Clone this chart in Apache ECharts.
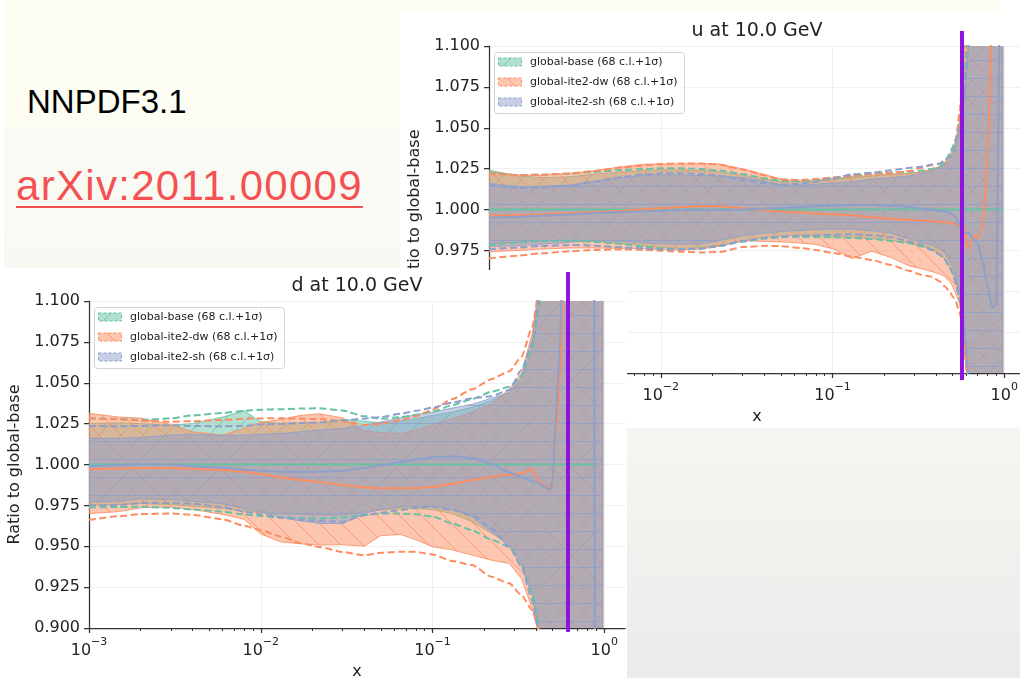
<!DOCTYPE html>
<html>
<head>
<meta charset="utf-8">
<title>NNPDF3.1 – ratio to global-base</title>
<script src="https://cdn.jsdelivr.net/npm/echarts@6.0.0/dist/echarts.min.js"></script>
<style>
  html, body { margin: 0; padding: 0; background: #ffffff; }
  #slide { position: relative; width: 1020px; height: 678px; overflow: hidden; background: #ffffff; }
  .blk { position: absolute; }
  #creamTop { left: 4px; top: 0; width: 996px; height: 12px; background: #fdfdf4; }
  #creamBox { left: 4px; top: 0; width: 396px; height: 268px;
              background: linear-gradient(to bottom, #fdfdf4 0px, #fdfdf4 127px, #fafaf5 127px, #f9f9f4 268px); }
  #uChart { left: 400px; top: 15px; width: 620px; height: 413px; background: #ffffff; }
  #dChart { left: 0; top: 270px; width: 627px; height: 408px; background: #ffffff; }
  #grayBox { left: 627px; top: 428px; width: 393px; height: 250px;
             background: linear-gradient(to bottom, #f5f5f1, #ebebea); }
  #heading { position: absolute; left: 27px; top: 85px; font: 33px/33px "Liberation Sans", Arial, sans-serif; color: #000; }
  #ref { position: absolute; left: 16px; top: 165px; font: 42px/42px "Liberation Sans", Arial, sans-serif; letter-spacing: 1.3px;
         color: #f45252; text-decoration: underline; text-decoration-thickness: 2px; text-underline-offset: 6px; white-space: nowrap; }
  .cut { position: absolute; width: 4px; background: #8f14df; }
</style>
</head>
<body>
<div id="slide">
  <div class="blk" id="uChart"></div>
  <div class="blk" id="creamTop"></div>
  <div class="blk" id="creamBox"></div>
  <div id="heading">NNPDF3.1</div>
  <div id="ref">arXiv:2011.00009</div>
  <div class="blk" id="dChart"></div>
  <div class="blk" id="grayBox"></div>
  <div class="cut" style="left:960px; top:31px; height:349px;"></div>
  <div class="cut" style="left:566px; top:272px; height:360px;"></div>
</div>
<script>
// ---------- sampling grid in x ----------
const X = [0.001, 0.0015, 0.002, 0.003, 0.004, 0.006, 0.008, 0.01, 0.013, 0.017,
           0.022, 0.03, 0.04, 0.05, 0.065, 0.08, 0.1, 0.13, 0.17, 0.22,
           0.28, 0.33, 0.38, 0.42, 0.45, 0.48, 0.5, 0.52, 0.55, 0.58,
           0.62, 0.66, 0.7, 0.75, 0.8, 0.85, 0.9, 0.95, 0.98];

// ---------- axes ----------
const X_MIN = 0.001, X_MAX = 1.32;
const X_MAJOR = [0.001, 0.01, 0.1, 1];
const X_MAJOR_EXP = ['\u22123', '\u22122', '\u22121', '0'];
const X_MINOR = [0.002, 0.003, 0.004, 0.005, 0.006, 0.007, 0.008, 0.009,
                 0.02, 0.03, 0.04, 0.05, 0.06, 0.07, 0.08, 0.09,
                 0.2, 0.3, 0.4, 0.5, 0.6, 0.7, 0.8, 0.9];
const Y_MIN = 0.9, Y_MAX = 1.1, Y_STEP = 0.025;
const Y_LABELS = ['0.900', '0.925', '0.950', '0.975', '1.000', '1.025', '1.050', '1.075', '1.100'];

const SET_NAMES = ['global-base (68 c.l.+1\u03c3)', 'global-ite2-dw (68 c.l.+1\u03c3)', 'global-ite2-sh (68 c.l.+1\u03c3)'];

// ---------- d at 10.0 GeV ----------
const dBaseCentral = [1.000, 1.000, 1.000, 1.000, 1.000, 1.000, 1.000, 1.000, 1.000, 1.000,
  1.000, 1.000, 1.000, 1.000, 1.000, 1.000, 1.000, 1.000, 1.000, 1.000,
  1.000, 1.000, 1.000, 1.000, 1.000, 1.000, 1.000, 1.000, 1.000, 1.000,
  1.000, 1.000, 1.000, 1.000, 1.000, 1.000, 1.000, null, null];
const dBaseSigHi = [1.0283, 1.0278, 1.0272, 1.0283, 1.0300, 1.0315, 1.0328, 1.0335, 1.0338, 1.0342,
  1.0344, 1.0330, 1.0295, 1.0280, 1.0290, 1.0305, 1.0323, 1.0362, 1.0400, 1.0445,
  1.0475, 1.0540, 1.0720, 1.0990, 1.1300, 1.1700, 1.2000, 1.2300, 1.2700, 1.3100,
  1.3600, 1.4100, 1.4600, 1.5200, 1.6000, 1.7000, 1.8000, null, null];
const dBaseSigLo = [0.9737, 0.9740, 0.9741, 0.9735, 0.9725, 0.9712, 0.9695, 0.9685, 0.9676, 0.9672,
  0.9670, 0.9675, 0.9692, 0.9700, 0.9700, 0.9695, 0.9682, 0.9640, 0.9598, 0.9540,
  0.9497, 0.9380, 0.9220, 0.8980, 0.8700, 0.8400, 0.8200, 0.8000, 0.7700, 0.7400,
  0.7000, 0.6600, 0.6200, 0.5800, 0.5400, 0.5000, 0.4500, null, null];
const dBaseBandHi = [1.0250, 1.0255, 1.0250, 1.0240, 1.0250, 1.0290, 1.0328, 1.0262, 1.0252, 1.0255,
  1.0255, 1.0275, 1.0265, 1.0255, 1.0265, 1.0280, 1.0300, 1.0320, 1.0350, 1.0390,
  1.0440, 1.0520, 1.0700, 1.0980, 1.1300, 1.1700, 1.2000, 1.2300, 1.2700, 1.3100,
  1.3600, 1.4100, 1.4600, 1.5200, 1.6000, 1.7000, 1.8000, 1.9000, 2.0000];
const dBaseBandLo = [0.9750, 0.9755, 0.9760, 0.9755, 0.9745, 0.9730, 0.9715, 0.9705, 0.9700, 0.9695,
  0.9690, 0.9690, 0.9710, 0.9720, 0.9730, 0.9730, 0.9725, 0.9700, 0.9650, 0.9580,
  0.9520, 0.9400, 0.9230, 0.8990, 0.8700, 0.8400, 0.8200, 0.8000, 0.7700, 0.7400,
  0.7000, 0.6600, 0.6200, 0.5800, 0.5400, 0.5000, 0.4500, 0.4000, 0.3500];

const dDwCentral = [0.9972, 0.9976, 0.9979, 0.9978, 0.9974, 0.9966, 0.9955, 0.9942, 0.9920, 0.9905,
  0.9893, 0.9874, 0.9860, 0.9855, 0.9854, 0.9856, 0.9862, 0.9880, 0.9905, 0.9925,
  0.9937, 0.9945, 0.9972, 0.9890, 0.9870, 0.9845, 0.9880, 1.0180, 1.0480, 1.1200,
  1.2000, 1.3000, 1.4000, 1.5000, 1.6000, 1.7000, 1.8000, 1.9000, 2.0000];
const dDwSigHi = [1.0283, 1.0276, 1.0268, 1.0262, 1.0265, 1.0272, 1.0280, 1.0282, 1.0283, 1.0280,
  1.0278, 1.0265, 1.0242, 1.0248, 1.0272, 1.0295, 1.0335, 1.0400, 1.0460, 1.0522,
  1.0570, 1.0660, 1.0840, 1.1080, 1.1400, 1.1800, 1.2100, 1.2400, 1.2800, 1.3200,
  1.3700, 1.4200, 1.4700, 1.5300, 1.6000, 1.7000, 1.8000, 1.9000, 2.0000];
const dDwSigLo = [0.9660, 0.9684, 0.9697, 0.9700, 0.9692, 0.9665, 0.9625, 0.9598, 0.9560, 0.9520,
  0.9495, 0.9465, 0.9445, 0.9460, 0.9466, 0.9466, 0.9450, 0.9410, 0.9385, 0.9313,
  0.9273, 0.9200, 0.9110, 0.8980, 0.8700, 0.8400, 0.8200, 0.8000, 0.7700, 0.7400,
  0.7000, 0.6600, 0.6200, 0.5800, 0.5400, 0.5000, 0.4500, 0.4000, 0.3500];
const dDwBandHi = [1.0313, 1.0290, 1.0284, 1.0245, 1.0200, 1.0180, 1.0222, 1.0258, 1.0275, 1.0300,
  1.0310, 1.0285, 1.0205, 1.0195, 1.0190, 1.0210, 1.0245, 1.0280, 1.0320, 1.0370,
  1.0460, 1.0560, 1.0800, 1.1100, 1.1500, 1.1900, 1.2200, 1.2500, 1.2900, 1.3300,
  1.3800, 1.4300, 1.4800, 1.5400, 1.6000, 1.7000, 1.8000, 1.9000, 2.0000];
const dDwBandLo = [0.9700, 0.9712, 0.9735, 0.9740, 0.9725, 0.9695, 0.9665, 0.9575, 0.9527, 0.9515,
  0.9507, 0.9510, 0.9500, 0.9565, 0.9572, 0.9540, 0.9497, 0.9478, 0.9446, 0.9415,
  0.9395, 0.9300, 0.9120, 0.8950, 0.8600, 0.8300, 0.8100, 0.7900, 0.7600, 0.7300,
  0.6900, 0.6500, 0.6100, 0.5700, 0.5300, 0.4900, 0.4500, 0.4000, 0.3500];

const dShCentral = [0.9990, 0.9996, 1.0002, 1.0000, 0.9990, 0.9980, 0.9968, 0.9962, 0.9956, 0.9955,
  0.9956, 0.9962, 0.9978, 0.9995, 1.0015, 1.0030, 1.0045, 1.0050, 1.0040, 1.0005,
  0.9950, 0.9922, 0.9900, 0.9884, 0.9862, 0.9845, 0.9900, 1.0250, 1.0700, 1.1500,
  1.2500, 1.3500, 1.4500, 1.5500, 1.6500, 1.7500, 0.2000, null, null];
const dShSigHi = [1.0236, 1.0234, 1.0236, 1.0240, 1.0236, 1.0234, 1.0236, 1.0244, 1.0248, 1.0254,
  1.0258, 1.0270, 1.0280, 1.0290, 1.0310, 1.0328, 1.0348, 1.0378, 1.0405, 1.0418,
  1.0455, 1.0580, 1.0745, 1.1030, 1.1400, 1.1800, 1.2100, 1.2400, 1.2800, 1.3200,
  1.3700, 1.4200, 1.4700, 1.5300, 1.6000, 1.7000, 1.8000, null, null];
const dShSigLo = [0.9750, 0.9752, 0.9764, 0.9764, 0.9760, 0.9740, 0.9712, 0.9695, 0.9675, 0.9662,
  0.9654, 0.9650, 0.9690, 0.9705, 0.9722, 0.9735, 0.9742, 0.9722, 0.9690, 0.9610,
  0.9500, 0.9375, 0.9170, 0.8950, 0.8600, 0.8300, 0.8100, 0.7900, 0.7600, 0.7300,
  0.6900, 0.6500, 0.6100, 0.5700, 0.5300, 0.4900, 0.4500, null, null];
const dShBandHi = [1.0160, 1.0160, 1.0165, 1.0180, 1.0185, 1.0178, 1.0180, 1.0185, 1.0190, 1.0200,
  1.0212, 1.0220, 1.0240, 1.0260, 1.0285, 1.0305, 1.0320, 1.0345, 1.0368, 1.0405,
  1.0440, 1.0540, 1.0750, 1.1100, 1.1500, 1.1900, 1.2200, 1.2500, 1.2900, 1.3300,
  1.3800, 1.4300, 1.4800, 1.5400, 1.6000, 1.7000, 1.8000, 1.9000, 2.0000];
const dShBandLo = [0.9772, 0.9775, 0.9790, 0.9785, 0.9775, 0.9760, 0.9730, 0.9710, 0.9680, 0.9655,
  0.9640, 0.9638, 0.9700, 0.9725, 0.9742, 0.9742, 0.9742, 0.9728, 0.9680, 0.9590,
  0.9500, 0.9380, 0.9200, 0.8950, 0.8600, 0.8300, 0.8100, 0.7900, 0.7600, 0.7300,
  0.6900, 0.6500, 0.6100, 0.5700, 0.5300, 0.4900, 0.4500, 0.4000, 0.3500];

// ---------- u at 10.0 GeV ----------
const uBaseCentral = [1.000, 1.000, 1.000, 1.000, 1.000, 1.000, 1.000, 1.000, 1.000, 1.000,
  1.000, 1.000, 1.000, 1.000, 1.000, 1.000, 1.000, 1.000, 1.000, 1.000,
  1.000, 1.000, 1.000, 1.000, 1.000, 1.000, 1.000, 1.000, 1.000, 1.000,
  1.000, 1.000, 1.000, 1.000, 1.000, 1.000, 1.000, 1.000, 1.000];
const uBaseSigHi = [1.0221, 1.0211, 1.0213, 1.0219, 1.0229, 1.0242, 1.0248, 1.0252, 1.0252, 1.0248,
  1.0238, 1.0217, 1.0191, 1.0176, 1.0174, 1.0180, 1.0191, 1.0205, 1.0217, 1.0225,
  1.0231, 1.0238, 1.0250, 1.0262, 1.0290, 1.0340, 1.0380, 1.0430, 1.0550, 1.0800,
  1.1100, 1.1600, 1.2100, 1.2800, 1.3600, 1.4500, 1.5500, 1.6500, null];
const uBaseSigLo = [0.9783, 0.9799, 0.9807, 0.9809, 0.9803, 0.9789, 0.9773, 0.9762, 0.9756, 0.9762,
  0.9777, 0.9803, 0.9822, 0.9830, 0.9833, 0.9832, 0.9830, 0.9826, 0.9820, 0.9808,
  0.9793, 0.9775, 0.9752, 0.9725, 0.9695, 0.9650, 0.9610, 0.9560, 0.9450, 0.9250,
  0.8900, 0.8400, 0.7900, 0.7200, 0.6400, 0.5500, 0.4500, 0.3500, null];
const uBaseBandHi = [1.0240, 1.0205, 1.0195, 1.0200, 1.0215, 1.0230, 1.0238, 1.0242, 1.0242, 1.0238,
  1.0230, 1.0210, 1.0185, 1.0170, 1.0168, 1.0172, 1.0182, 1.0195, 1.0205, 1.0215,
  1.0222, 1.0230, 1.0245, 1.0260, 1.0285, 1.0330, 1.0370, 1.0420, 1.0530, 1.0780,
  1.1100, 1.1600, 1.2100, 1.2800, 1.3600, 1.4500, 1.5500, 1.6500, 1.7500];
const uBaseBandLo = [0.9790, 0.9800, 0.9808, 0.9810, 0.9805, 0.9792, 0.9778, 0.9768, 0.9762, 0.9766,
  0.9780, 0.9805, 0.9828, 0.9838, 0.9842, 0.9840, 0.9836, 0.9830, 0.9822, 0.9810,
  0.9795, 0.9778, 0.9755, 0.9728, 0.9698, 0.9655, 0.9615, 0.9565, 0.9460, 0.9270,
  0.8900, 0.8400, 0.7900, 0.7200, 0.6400, 0.5500, 0.4500, 0.3500, 0.3000];

const uDwCentral = [0.9962, 0.9966, 0.9970, 0.9977, 0.9983, 0.9993, 1.0001, 1.0007, 1.0015, 1.0020,
  1.0020, 1.0008, 0.9995, 0.9988, 0.9982, 0.9976, 0.9971, 0.9965, 0.9952, 0.9945,
  0.9937, 0.9932, 0.9927, 0.9925, 0.9924, 0.9920, 0.9915, 0.9910, 0.9900, 0.9880,
  0.9760, 0.9840, 0.9825, 0.9900, 1.0340, 1.1200, 1.3000, 1.5000, 1.6000];
const uDwSigHi = [1.0217, 1.0209, 1.0212, 1.0221, 1.0235, 1.0258, 1.0270, 1.0278, 1.0282, 1.0282,
  1.0274, 1.0245, 1.0210, 1.0185, 1.0180, 1.0186, 1.0196, 1.0208, 1.0218, 1.0225,
  1.0235, 1.0255, 1.0272, 1.0282, 1.0300, 1.0320, 1.0340, 1.0380, 1.0600, 1.0950,
  1.1300, 1.1800, 1.2300, 1.3000, 1.3800, 1.4700, 1.5700, 1.6700, 1.7500];
const uDwSigLo = [0.9701, 0.9718, 0.9732, 0.9745, 0.9752, 0.9756, 0.9753, 0.9748, 0.9742, 0.9737,
  0.9740, 0.9770, 0.9778, 0.9776, 0.9765, 0.9752, 0.9735, 0.9712, 0.9690, 0.9660,
  0.9625, 0.9600, 0.9589, 0.9560, 0.9530, 0.9500, 0.9470, 0.9440, 0.9370, 0.9200,
  0.8850, 0.8300, 0.7800, 0.7100, 0.6300, 0.5400, 0.4400, 0.3400, 0.3000];
const uDwBandHi = [1.0231, 1.0211, 1.0210, 1.0222, 1.0235, 1.0262, 1.0277, 1.0278, 1.0279, 1.0282,
  1.0278, 1.0248, 1.0215, 1.0185, 1.0175, 1.0180, 1.0190, 1.0200, 1.0210, 1.0215,
  1.0220, 1.0230, 1.0245, 1.0265, 1.0290, 1.0320, 1.0350, 1.0400, 1.0550, 1.0900,
  1.1300, 1.1800, 1.2300, 1.3000, 1.3800, 1.4700, 1.5700, 1.6700, 1.7500];
const uDwBandLo = [0.9742, 0.9750, 0.9758, 0.9765, 0.9765, 0.9762, 0.9760, 0.9755, 0.9752, 0.9758,
  0.9775, 0.9810, 0.9805, 0.9802, 0.9795, 0.9786, 0.9760, 0.9700, 0.9745, 0.9705,
  0.9655, 0.9638, 0.9620, 0.9605, 0.9590, 0.9560, 0.9530, 0.9490, 0.9420, 0.9250,
  0.8800, 0.8300, 0.7800, 0.7100, 0.6300, 0.5400, 0.4400, 0.3400, 0.3000];

const uShCentral = [0.9950, 0.9956, 0.9962, 0.9970, 0.9977, 0.9985, 0.9989, 0.9993, 0.9997, 0.9997,
  0.9998, 1.0000, 1.0005, 1.0010, 1.0015, 1.0020, 1.0024, 1.0027, 1.0028, 1.0025,
  1.0015, 1.0005, 0.9998, 0.9992, 0.9988, 0.9980, 0.9970, 0.9955, 0.9900, 0.9860,
  0.9854, 0.9820, 0.9790, 0.9680, 0.9530, 0.9400, 0.9420, 1.2000, null];
const uShSigHi = [1.0150, 1.0131, 1.0134, 1.0146, 1.0170, 1.0200, 1.0214, 1.0221, 1.0221, 1.0217,
  1.0206, 1.0180, 1.0162, 1.0152, 1.0158, 1.0170, 1.0190, 1.0215, 1.0225, 1.0240,
  1.0255, 1.0262, 1.0275, 1.0280, 1.0300, 1.0320, 1.0343, 1.0390, 1.0500, 1.0650,
  1.1000, 1.1500, 1.2000, 1.2700, 1.3500, 1.4400, 1.5400, 1.6400, null];
const uShSigLo = [0.9756, 0.9768, 0.9777, 0.9783, 0.9780, 0.9768, 0.9762, 0.9756, 0.9756, 0.9760,
  0.9777, 0.9808, 0.9825, 0.9835, 0.9840, 0.9842, 0.9845, 0.9848, 0.9843, 0.9830,
  0.9805, 0.9785, 0.9752, 0.9725, 0.9695, 0.9650, 0.9610, 0.9560, 0.9450, 0.9320,
  0.8950, 0.8400, 0.7900, 0.7200, 0.6400, 0.5500, 0.4500, 0.3500, null];
const uShBandHi = [1.0160, 1.0140, 1.0142, 1.0150, 1.0170, 1.0195, 1.0210, 1.0212, 1.0211, 1.0208,
  1.0205, 1.0195, 1.0175, 1.0150, 1.0150, 1.0155, 1.0162, 1.0170, 1.0185, 1.0195,
  1.0205, 1.0220, 1.0235, 1.0255, 1.0275, 1.0300, 1.0330, 1.0380, 1.0490, 1.0650,
  1.1000, 1.1500, 1.2000, 1.2700, 1.3500, 1.4400, 1.5400, 1.6400, 1.7500];
const uShBandLo = [0.9772, 0.9780, 0.9788, 0.9800, 0.9810, 0.9805, 0.9795, 0.9790, 0.9788, 0.9789,
  0.9810, 0.9840, 0.9855, 0.9865, 0.9872, 0.9878, 0.9880, 0.9880, 0.9870, 0.9855,
  0.9820, 0.9800, 0.9780, 0.9760, 0.9735, 0.9690, 0.9650, 0.9600, 0.9500, 0.9350,
  0.8950, 0.8400, 0.7900, 0.7200, 0.6400, 0.5500, 0.4500, 0.3500, 0.3000];

// ---------- styling helpers ----------
const FONT = 'DejaVu Sans';
const C_BASE = '#66c2a5', C_DW = '#fc8d62', C_SH = '#8da0cb';
const TEXT = '#222222', AXIS = '#333333';

function rgba(hex, a) {
  const n = parseInt(hex.slice(1), 16);
  return 'rgba(' + ((n >> 16) & 255) + ',' + ((n >> 8) & 255) + ',' + (n & 255) + ',' + a + ')';
}

// repeating hatch tile: '/' , '\\' or '-'
function hatchTile(kind, stroke) {
  const s = kind === '-' ? 18 : 22;
  const c = document.createElement('canvas');
  c.width = s; c.height = s;
  const g = c.getContext('2d');
  g.strokeStyle = stroke; g.lineWidth = 1;
  g.beginPath();
  if (kind === '/') {
    g.moveTo(-2, s + 2); g.lineTo(s + 2, -2);
    g.moveTo(-2, 2); g.lineTo(2, -2);
    g.moveTo(s - 2, s + 2); g.lineTo(s + 2, s - 2);
  } else if (kind === '\\') {
    g.moveTo(-2, -2); g.lineTo(s + 2, s + 2);
    g.moveTo(s - 2, -2); g.lineTo(s + 2, 2);
    g.moveTo(-2, s - 2); g.lineTo(2, s + 2);
  } else {
    g.moveTo(0, s / 2 + 0.5); g.lineTo(s, s / 2 + 0.5);
  }
  g.stroke();
  return { image: c, repeat: 'repeat' };
}

function pairs(arr) {
  return X.map((x, i) => [x, arr[i] == null ? '-' : arr[i]]);
}

function buildOption(title, sets) {
  const series = [];

  // 68% c.l. bands as filled, hatched polygons
  sets.forEach(s => {
    const rows = [];
    X.forEach((x, i) => {
      if (s.bandLo[i] != null && s.bandHi[i] != null) rows.push([x, s.bandLo[i], s.bandHi[i]]);
    });
    const pattern = hatchTile(s.hatch, rgba(s.color, 0.8));
    series.push({
      type: 'custom', name: s.name, coordinateSystem: 'cartesian2d', clip: true, silent: true, z: 2,
      data: rows, encode: { x: 0, y: [1, 2] },
      renderItem: function (params, api) {
        if (params.dataIndexInside !== 0) return null;
        const upper = rows.map(r => api.coord([r[0], r[2]]));
        const lower = rows.map(r => api.coord([r[0], r[1]])).reverse();
        const pts = upper.concat(lower);
        return {
          type: 'group', children: [
            { type: 'polygon', shape: { points: pts }, style: { fill: rgba(s.color, 0.5), stroke: rgba(s.color, 0.85), lineWidth: 1 } },
            { type: 'polygon', shape: { points: pts }, style: { fill: pattern, stroke: null } }
          ]
        };
      }
    });
  });

  // +/-1 sigma dashed curves
  sets.forEach(s => {
    [s.sigHi, s.sigLo].forEach(arr => series.push({
      type: 'line', data: pairs(arr), symbol: 'none', silent: true, z: 3,
      smooth: 0.2, smoothMonotone: 'x',
      lineStyle: { color: s.color, width: 2, type: [7, 3.5] }
    }));
  });

  // central values
  sets.forEach(s => series.push({
    type: 'line', data: pairs(s.central), symbol: 'none', silent: true, z: 4,
    smooth: 0.2, smoothMonotone: 'x',
    lineStyle: { color: s.color, width: 2 }
  }));

  // legend box and title
  const elements = [
    { type: 'text', x: 357, y: 16, z: 10,
      style: { text: title, fontSize: 19, fontFamily: FONT, fill: TEXT, align: 'center', verticalAlign: 'middle' } },
    { type: 'rect', z: 10, shape: { x: 94.5, y: 37.5, width: 190, height: 61, r: 3 },
      style: { fill: 'rgba(255,255,255,0.8)', stroke: '#d4d4d4', lineWidth: 1 } }
  ];
  sets.forEach((s, i) => {
    const cy = 47 + i * 20;
    elements.push({ type: 'rect', z: 11, shape: { x: 98.5, y: cy - 4, width: 23, height: 8 },
      style: { fill: rgba(s.color, 0.5), stroke: s.color, lineWidth: 1, lineDash: [3, 2] } });
    elements.push({ type: 'rect', z: 11, shape: { x: 98.5, y: cy - 4, width: 23, height: 8 },
      style: { fill: hatchTile(s.hatch, rgba(s.color, 0.8)), stroke: null } });
    elements.push({ type: 'text', z: 11, x: 130, y: cy,
      style: { text: s.name, fontSize: 11, fontFamily: FONT, fill: TEXT, verticalAlign: 'middle' } });
  });

  const xLabelRich = {
    b: { fontSize: 16, fontFamily: FONT, color: TEXT, verticalAlign: 'bottom', lineHeight: 22 },
    e: { fontSize: 11, fontFamily: FONT, color: TEXT, verticalAlign: 'top', lineHeight: 22 }
  };

  return {
    animation: false,
    backgroundColor: '#ffffff',
    textStyle: { fontFamily: FONT },
    grid: { left: 89, top: 31, width: 536, height: 327, containLabel: false, outerBoundsMode: 'none' },
    xAxis: [
      {
        type: 'log', logBase: 10, min: X_MIN, max: X_MAX, position: 'bottom',
        axisLine: { show: true, onZero: false, lineStyle: { color: AXIS, width: 1.25 } },
        axisTick: { show: true, customValues: X_MAJOR, length: 5, lineStyle: { color: AXIS, width: 1.25 } },
        axisLabel: {
          show: true, customValues: X_MAJOR, margin: 9, color: TEXT,
          formatter: function (v) {
            const e = v <= 0 ? Math.round(v) : Math.round(Math.log10(v));
            const idx = X_MAJOR.findIndex(t => Math.round(Math.log10(t)) === e);
            return '{b|10}{e|' + X_MAJOR_EXP[idx] + '}';
          },
          rich: xLabelRich
        },
        splitLine: { show: true, lineStyle: { color: '#f0f0f0', width: 1 } },
        name: 'x', nameLocation: 'middle', nameGap: 30,
        nameTextStyle: { fontSize: 16, color: TEXT, fontFamily: FONT }
      },
      {
        type: 'log', logBase: 10, min: X_MIN, max: X_MAX, position: 'bottom',
        axisLine: { show: false },
        axisTick: { show: true, customValues: X_MINOR, length: 3, lineStyle: { color: AXIS, width: 1 } },
        axisLabel: { show: false },
        splitLine: { show: false }
      }
    ],
    yAxis: {
      type: 'value', min: Y_MIN, max: Y_MAX, interval: Y_STEP,
      axisLine: { show: true, onZero: false, lineStyle: { color: AXIS, width: 1.25 } },
      axisTick: { show: true, length: 5, lineStyle: { color: AXIS, width: 1.25 } },
      axisLabel: {
        margin: 9, fontSize: 16, color: TEXT, fontFamily: FONT,
        formatter: v => Y_LABELS[Math.round((v - Y_MIN) / Y_STEP)]
      },
      splitLine: { show: true, lineStyle: { color: '#f0f0f0', width: 1 } },
      name: 'Ratio to global-base', nameLocation: 'middle', nameGap: 57,
      nameTextStyle: { fontSize: 16, color: TEXT, fontFamily: FONT }
    },
    graphic: { elements: elements },
    series: series
  };
}

const dSets = [
  { name: SET_NAMES[0], color: C_BASE, hatch: '/', central: dBaseCentral, sigHi: dBaseSigHi, sigLo: dBaseSigLo, bandHi: dBaseBandHi, bandLo: dBaseBandLo },
  { name: SET_NAMES[1], color: C_DW, hatch: '\\', central: dDwCentral, sigHi: dDwSigHi, sigLo: dDwSigLo, bandHi: dDwBandHi, bandLo: dDwBandLo },
  { name: SET_NAMES[2], color: C_SH, hatch: '-', central: dShCentral, sigHi: dShSigHi, sigLo: dShSigLo, bandHi: dShBandHi, bandLo: dShBandLo }
];
const uSets = [
  { name: SET_NAMES[0], color: C_BASE, hatch: '/', central: uBaseCentral, sigHi: uBaseSigHi, sigLo: uBaseSigLo, bandHi: uBaseBandHi, bandLo: uBaseBandLo },
  { name: SET_NAMES[1], color: C_DW, hatch: '\\', central: uDwCentral, sigHi: uDwSigHi, sigLo: uDwSigLo, bandHi: uDwBandHi, bandLo: uDwBandLo },
  { name: SET_NAMES[2], color: C_SH, hatch: '-', central: uShCentral, sigHi: uShSigHi, sigLo: uShSigLo, bandHi: uShBandHi, bandLo: uShBandLo }
];

echarts.init(document.getElementById('uChart'), null, { renderer: 'canvas' }).setOption(buildOption('u at 10.0 GeV', uSets));
echarts.init(document.getElementById('dChart'), null, { renderer: 'canvas' }).setOption(buildOption('d at 10.0 GeV', dSets));
</script>
</body>
</html>
